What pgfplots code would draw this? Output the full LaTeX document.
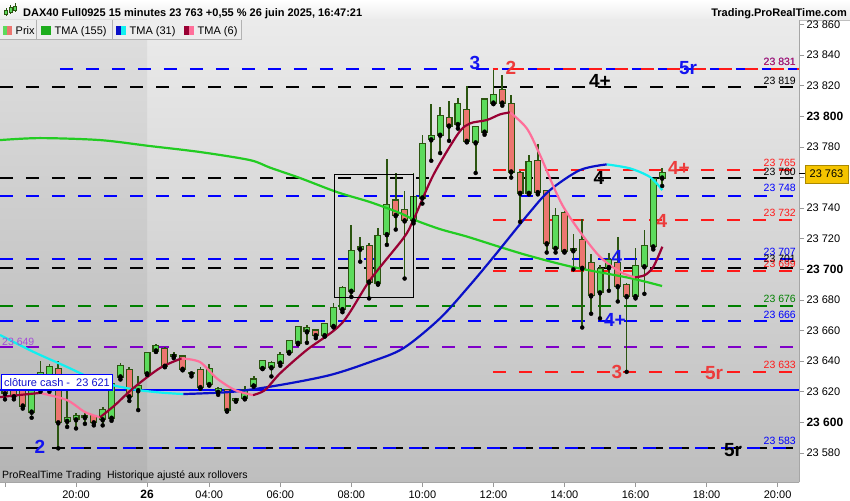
\documentclass[border=0pt]{standalone}
\usepackage{pgfplots}
\pgfplotsset{compat=1.18}
\usepackage{pgfplotstable}
\usepackage{fontspec}
\setmainfont{Liberation Sans}
\definecolor{bgTop}{HTML}{EBEBEB}
\definecolor{bgBot}{HTML}{BEBEBE}
\definecolor{bgTopL}{HTML}{DFDFDF}
\definecolor{bgBotL}{HTML}{B4B4B4}
\definecolor{wick}{HTML}{2B5510}
\definecolor{upfill}{HTML}{5CDB5C}
\definecolor{dnfill}{HTML}{EC7670}
\definecolor{tmaG}{HTML}{22CC22}
\definecolor{tmaB}{HTML}{0A10C8}
\definecolor{tmaC}{HTML}{10F0F0}
\definecolor{tmaR}{HTML}{990033}
\definecolor{tmaP}{HTML}{FF6F9A}
\definecolor{lvlBlue}{HTML}{0000FF}
\definecolor{lvlRed}{HTML}{FF1A1A}
\definecolor{lvlGreen}{HTML}{008000}
\definecolor{lvlPurple}{HTML}{7F00C8}
\definecolor{lblRed}{HTML}{EC3C3C}
\definecolor{lblBlue}{HTML}{1414F0}
\definecolor{gold}{HTML}{F5C400}

\pgfplotstableread{
i o h l c
0 23623 23626 23615 23619
1 23621 23624 23615 23617
2 23621 23623 23609 23611
3 23607 23626 23603 23624
4 23624 23640 23620 23632
5 23623 23638 23620 23636
6 23635 23640 23583 23600
7 23601 23624 23597 23603
8 23602 23606 23596 23604
9 23603.5 23607 23599 23604
10 23604 23605 23598 23600
11 23602 23610 23598 23608
12 23603 23627 23601 23625
13 23630 23639 23628 23637
14 23634 23636 23614 23617
15 23621 23630 23608 23624
16 23632 23646 23631 23645
17 23647 23651 23646 23650
18 23648 23649 23636 23637
19 23643.5 23646 23642 23644
20 23643 23644 23634 23635
21 23632 23633 23630 23632.5
22 23634 23636 23622 23623
23 23625 23638 23624 23635
24 23620 23623 23618 23622
25 23621 23622 23607 23608
26 23614.5 23615.5 23613.5 23615
27 23616 23624 23615 23621
28 23624 23630 23624 23628
29 23635.5 23641 23635 23640
30 23636 23640 23630 23639
31 23639 23646 23637 23644
32 23646 23654 23645 23653
33 23652 23663 23651 23662
34 23659.5 23663.5 23652 23661.5
35 23660 23661 23655 23657
36 23657 23665 23656 23664.5
37 23663 23678 23662 23675
38 23674 23689 23672 23688
39 23686 23729 23682 23712
40 23713.5 23721 23705 23714.5
41 23715 23717 23681 23692
42 23691 23727 23690 23722
43 23723 23772 23716 23742
44 23745 23763 23726 23735.5
45 23739 23751 23694 23732
46 23732 23763 23730 23747
47 23747 23788 23743 23782
48 23785 23808 23771 23787
49 23788 23806 23776 23800
50 23799 23810 23784 23794
51 23795 23812 23792 23808
52 23804 23820 23783 23784
53 23783 23793 23763 23793
54 23790 23812 23788 23811
55 23809 23830 23808 23814
56 23817.5 23827 23807 23809
57 23808 23814 23760 23764
58 23763 23764 23731 23750
59 23750 23775 23749 23770
60 23771 23782 23749 23750.5
61 23751 23752 23711 23717
62 23714 23740 23711 23735
63 23737 23738 23711 23712
64 23712.5 23723 23700 23713
65 23719 23733 23662 23701
66 23704 23710 23671 23683
67 23685 23703 23668 23700
68 23701.5 23711 23686 23706
69 23704 23721 23679 23689
70 23690 23691 23633 23682.5
71 23682.5 23714 23681 23702
72 23702 23726 23684 23715
73 23715 23760 23713 23759
74 23760 23766 23754.5 23763
}\candles

\begin{document}
\begin{tikzpicture}[x=1pt,y=1pt]
\useasboundingbox (0,0) rectangle (850,500);
\fill[white] (0,0) rectangle (850,500);
% header band
\shade[top color=white, bottom color=black!8] (0,480) rectangle (850,500);
\draw[black!25, line width=0.6pt] (0,480) -- (850,480);
% plot background
\shade[top color=bgTop,bottom color=bgBot] (0,18) rectangle (799,480);
\shade[top color=bgTopL,bottom color=bgBotL] (0,18) rectangle (147,480);
\begin{axis}[
  at={(0pt,18pt)}, anchor=south west, scale only axis,
  width=799pt, height=462pt,
  xmin=-0.563, xmax=89.41, ymin=23561, ymax=23863,
  scaled y ticks=false, scaled x ticks=false,
  axis x line*=bottom, axis y line*=right,
  axis line style={draw=gray!70, line width=0.8pt, -},
  xtick={0,8,16,23,31,39,47,55,63,71,79,87},
  xticklabels={{},20:00,{\bfseries\fontsize{12}{12}\selectfont 26},04:00,06:00,08:00,10:00,12:00,14:00,16:00,18:00,20:00},
  ytick={23580,23600,...,23860},
  yticklabels={23 580,{\bfseries\fontsize{12}{12}\selectfont 23 600},23 620,23 640,23 660,23 680,{\bfseries\fontsize{12}{12}\selectfont 23 700},23 720,23 740,23 760,23 780,{\bfseries\fontsize{12}{12}\selectfont 23 800},23 820,23 840,23 860},
  minor y tick num=1,
  tick align=outside, major tick length=5pt, minor tick length=5pt,
  tick style={draw=gray!80, line width=0.8pt},
  ticklabel style={font=\fontsize{11}{12}\selectfont},
  yticklabel style={xshift=-1pt},
  lvl/.style={line width=2pt, dash pattern=on 13pt off 13pt},
]
% ---- level lines
\addplot[lvl, black] coordinates {(-0.563,23819) (89.41,23819)};
\addplot[lvl, lvlBlue] coordinates {(6.19,23831) (89.41,23831)};
\addplot[lvl, lvlRed, dash phase=8pt] coordinates {(54.95,23831) (89.41,23831)};
\addplot[lvl, lvlRed] coordinates {(54.95,23765) (89.41,23765)};
\addplot[lvl, black] coordinates {(-0.563,23760) (89.41,23760)};
\addplot[lvl, lvlBlue] coordinates {(-0.563,23748) (89.41,23748)};
\addplot[lvl, lvlRed] coordinates {(54.95,23732) (89.41,23732)};
\addplot[lvl, lvlBlue] coordinates {(-0.563,23707) (89.41,23707)};
\addplot[lvl, black] coordinates {(-0.563,23701) (89.41,23701)};
\addplot[lvl, lvlRed] coordinates {(54.95,23699) (89.41,23699)};
\addplot[lvl, lvlGreen] coordinates {(-0.563,23676) (89.41,23676)};
\addplot[lvl, lvlBlue] coordinates {(-0.563,23666) (89.41,23666)};
\addplot[lvl, lvlPurple] coordinates {(-0.563,23649) (89.41,23649)};
\addplot[lvl, lvlRed] coordinates {(54.95,23633) (89.41,23633)};
\addplot[line width=2pt, lvlBlue] coordinates {(-0.563,23621) (89.41,23621)};
\addplot[lvl, black] coordinates {(-0.563,23583) (89.41,23583)};
\addplot[lvl, lvlBlue, dash phase=13pt] coordinates {(5.97,23583) (89.41,23583)};
% ---- candles: wicks
\addplot[only marks, mark=none, error bars/.cd, y dir=plus, y explicit, error mark=none,
  error bar style={line width=1.7pt, draw=wick}]
  table[x=i, y=l, y error expr=\thisrow{h}-\thisrow{l}] {\candles};
% bodies (outline)
\addplot[only marks, mark=none, error bars/.cd, y dir=plus, y explicit, error mark=none,
  error bar style={line width=7pt, draw=wick}]
  table[x=i, y expr={min(\thisrow{o},\thisrow{c})-0.7}, y error expr={abs(\thisrow{c}-\thisrow{o})+1.4}] {\candles};
% bodies up fill
\addplot[only marks, mark=none, restrict expr to domain={\thisrow{c}-\thisrow{o}}{0:1000},
  error bars/.cd, y dir=plus, y explicit, error mark=none,
  error bar style={line width=4.8pt, draw=upfill}]
  table[x=i, y=o, y error expr={\thisrow{c}-\thisrow{o}}] {\candles};
% bodies down fill
\addplot[only marks, mark=none, restrict expr to domain={\thisrow{o}-\thisrow{c}}{0.0001:1000},
  error bars/.cd, y dir=plus, y explicit, error mark=none,
  error bar style={line width=4.8pt, draw=dnfill}]
  table[x=i, y=c, y error expr={\thisrow{o}-\thisrow{c}}] {\candles};
% ---- TMA 155
\addplot[tmaG, line width=2.2pt, smooth] coordinates {
(-0.56,23784.5) (3.94,23785.8) (10.70,23784.5) (16.33,23780.6) (21.96,23776.7)
(27.59,23771.4) (29.84,23766.5) (33.22,23759.7) (37.39,23750.5) (41.10,23744.0)
(44.48,23736.8) (46.17,23732.2) (48.99,23726.3) (52.03,23721.4) (55.74,23714.6)
(59.12,23708.7) (63.96,23701.5) (70.38,23694.3) (73.99,23689.1)};
% ---- TMA 31
\addplot[tmaC, line width=2.2pt, smooth] coordinates {
(-0.56,23657.1) (3.19,23646.1) (6.95,23636.3) (10.70,23626.5) (14.45,23621.6) (17.45,23619.5) (20.08,23618.5)};
\addplot[tmaB, line width=2.2pt, smooth] coordinates {
(20.08,23618.5) (25.68,23620.0) (30.97,23624.4) (36.6,23630.9) (41.1,23639.4) (44.85,23648.4)
(48.99,23668.0) (52.36,23689.7) (55.18,23709.3) (59.12,23737.5) (61.37,23751.8) (64.75,23764.9) (67.76,23768.6)};
\addplot[tmaC, line width=2.2pt, smooth] coordinates {
(67.76,23768.6) (70.38,23766.0) (72.64,23760.3) (74.02,23751.8)};
% ---- TMA 6
\addplot[tmaR, line width=2.2pt, smooth] coordinates {(-0.56,23616.5) (1.5,23617.8) (3.94,23619.2)};
\addplot[tmaP, line width=2.2pt, smooth] coordinates {(3.94,23619.2) (6.95,23614.6) (9.01,23606.7) (10.70,23603.3)};
\addplot[tmaR, line width=2.2pt, smooth] coordinates {(10.70,23603.3) (12.39,23611.3) (14.41,23622.2) (17.45,23635.5) (19.90,23641.8)};
\addplot[tmaP, line width=2.2pt, smooth] coordinates {(19.90,23641.8) (21.96,23639.4) (23.84,23628.8) (25.90,23621.1) (27.93,23617.8)};
\addplot[tmaR, line width=2.2pt, smooth] coordinates {
(27.93,23617.8) (29.28,23621.1) (30.97,23632.0) (33.98,23647.3) (37.92,23664.7) (41.10,23693.0)
(44.85,23720.3) (45.98,23732.2) (48.23,23761.6) (51.05,23788.9) (52.36,23795.4) (54.25,23797.6)
(55.74,23801.3) (56.87,23802.6)};
\addplot[tmaP, line width=2.2pt, smooth] coordinates {
(56.87,23802.6) (58.75,23792.2) (60.25,23774.7) (62.87,23740.9) (66.63,23710.5) (69.26,23698.4) (70.95,23694.8)};
\addplot[tmaR, line width=2.2pt, smooth] coordinates {(70.95,23694.8) (72.07,23696.3) (73.01,23701.7) (74.02,23714.8)};
\end{axis}
% ---- rectangle annotation
\draw[black, line width=1.2pt] (334.3,325.7) rectangle (413.3,202.7);
% ---- header texts
\foreach \xx/\yb/\yt/\wb/\wt in {6/486/490/484/492, 10.5/488/493/486/495, 15/490/494/488/497}{
  \draw[wick, line width=0.8pt] (\xx,\wb) -- (\xx,\wt);
  \fill[upfill, draw=wick, line width=0.4pt] (\xx-1.5,\yb) rectangle (\xx+1.5,\yt);
}
\node[anchor=base west, inner sep=0, font=\bfseries\fontsize{11}{12}\selectfont] at (23,483.5)
  {DAX40 Full0925 15 minutes 23 763 +0,55 \% 26 juin 2025, 16:47:21};
\node[anchor=base east, inner sep=0, font=\bfseries\fontsize{11}{12}\selectfont] at (847,483.5)
  {Trading.ProRealTime.com};
% ---- legend tabs
\foreach \a/\b in {0/36.7, 36.7/112.7, 112.7/180, 180/241.7}{
  \fill[black!7] (\a,460.5) rectangle (\b,479.5);
  \draw[black!30, line width=0.8pt] (\b,460.5) -- (\b,479.5);
}
\draw[black!30, line width=0.8pt] (0,460.5) -- (241.7,460.5);
\fill[upfill] (2.7,465) rectangle (7.2,474);
\fill[dnfill] (7.2,465) rectangle (11.7,474);
\fill[tmaG!85!black] (41,465) rectangle (51,474);
\fill[tmaB] (116,465) rectangle (121,474);
\fill[tmaC] (121,465) rectangle (126,474);
\fill[tmaR] (184,465) rectangle (189,474);
\fill[tmaP] (189,465) rectangle (194,474);
\begin{scope}[every node/.style={anchor=base west, inner sep=0, font=\fontsize{11}{12}\selectfont}]
\node at (15.5,465.5) {Prix};
\node at (54.5,465.5) {TMA (155)};
\node at (129.5,465.5) {TMA (31)};
\node at (197.5,465.5) {TMA (6)};
\end{scope}
% ---- level value labels
\begin{scope}[every node/.style={anchor=east, inner sep=0, font=\fontsize{10.5}{11}\selectfont}]
\node[text=lvlBlue] at (796,438.3) {23 831};
\node[text=lvlRed, opacity=0.8] at (796,438.3) {23 831};
\node[text=black] at (796,419.3) {23 819};
\node[text=lvlRed] at (796,336.7) {23 765};
\node[text=black] at (796,328.3) {23 760};
\node[text=lvlBlue] at (796,311.7) {23 748};
\node[text=lvlRed] at (796,286.7) {23 732};
\node[text=lvlBlue] at (796,248.3) {23 707};
\node[text=black] at (796,240.7) {23 701};
\node[text=lvlRed] at (796,236) {23 699};
\node[text=lvlGreen] at (796,200.7) {23 676};
\node[text=lvlBlue] at (796,185) {23 666};
\node[text=lvlRed] at (796,135) {23 633};
\node[text=lvlBlue] at (796,59.3) {23 583};
\end{scope}
\node[anchor=west, inner sep=0, text=lvlPurple!70, font=\fontsize{10.5}{11}\selectfont] at (2,158.5) {23 649};
% cloture cash box
\node[anchor=south west, draw=lvlBlue, line width=1.6pt, fill=white, inner xsep=2.5pt, inner ysep=0pt,
  minimum height=15.5pt, text=lblBlue!85!black, font=\fontsize{11}{12}\selectfont] at (0.8,109.3) {clôture cash -\ \ 23 621};
% ---- big level tags
\begin{scope}[every node/.style={inner sep=0, font=\bfseries\fontsize{19}{19}\selectfont}]
\node[text=lblBlue] at (475,437) {3};
\node[text=lblRed] at (511,432) {2};
\node[text=black] at (600,419) {4+};
\node[text=lblBlue] at (688,432) {5r};
\node[text=black] at (599,322) {4};
\node[text=lblRed] at (679,332) {4+};
\node[text=lblRed] at (662,279) {4};
\node[text=lblBlue] at (617,243) {4};
\node[text=lblBlue] at (615,180) {4+};
\node[text=lblRed] at (617,128) {3};
\node[text=lblRed] at (714,127) {5r};
\node[text=lblBlue] at (40,53) {2};
\node[text=black] at (733,50) {5r};
\end{scope}
% bottom-left note
\node[anchor=west, inner sep=0, font=\fontsize{10.5}{11}\selectfont] at (2,24.5)
  {ProRealTime Trading\ \ Historique ajusté aux rollovers};
% current price tag
\draw[black, line width=1pt] (799,326) -- (805,326);
\node[fill=gold, draw=gold!70!black, line width=0.6pt, minimum width=43pt, minimum height=18pt, inner sep=0,
  font=\fontsize{11}{12}\selectfont] at (826.5,326) {23 763};
\end{tikzpicture}
\end{document}
